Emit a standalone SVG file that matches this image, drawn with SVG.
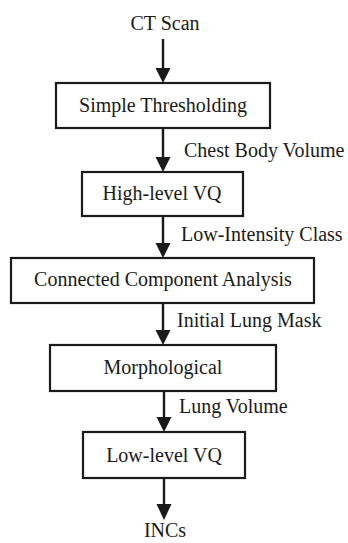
<svg xmlns="http://www.w3.org/2000/svg" width="348" height="543" viewBox="0 0 348 543">
<defs>
<style>
text{font-family:'Liberation Serif','Times New Roman',serif;font-size:20px;fill:#1a1a1a}
.c{text-anchor:middle}
.box{fill:#fff;stroke:#1a1a1a;stroke-width:2.2}
.ln{stroke:#1a1a1a;stroke-width:2.4;fill:none}
.hd{fill:#1a1a1a}
</style>
</defs>
<rect width="348" height="543" fill="#fff"/>
<g id="connectors">
<line class="ln" x1="163" y1="39" x2="163" y2="70"/><polygon class="hd" points="155.5,68 170.5,68 163,83"/>
<line class="ln" x1="163" y1="128" x2="163" y2="159"/><polygon class="hd" points="155.5,157 170.5,157 163,172"/>
<line class="ln" x1="163" y1="216" x2="163" y2="245"/><polygon class="hd" points="155.5,243 170.5,243 163,258"/>
<line class="ln" x1="163" y1="303" x2="163" y2="332"/><polygon class="hd" points="155.5,330 170.5,330 163,345"/>
<line class="ln" x1="164" y1="391" x2="164" y2="419"/><polygon class="hd" points="156.5,417 171.5,417 164,432"/>
<line class="ln" x1="164" y1="478" x2="164" y2="506"/><polygon class="hd" points="156.5,504 171.5,504 164,520"/>
<text x="184" y="157">Chest Body Volume</text>
<text x="181" y="241">Low-Intensity Class</text>
<text x="177" y="327">Initial Lung Mask</text>
<text x="179" y="413">Lung Volume</text>
</g>
<g id="ct-scan"><text class="c" x="165" y="30">CT Scan</text></g>
<g id="simple-thresholding"><rect class="box" x="56" y="83" width="214" height="45"/><text class="c" x="163" y="112">Simple Thresholding</text></g>
<g id="high-level-vq"><rect class="box" x="82" y="172" width="161" height="44"/><text class="c" x="162" y="200">High-level VQ</text></g>
<g id="connected-component-analysis"><rect class="box" x="11" y="258" width="303" height="45"/><text class="c" x="163" y="286">Connected Component Analysis</text></g>
<g id="morphological"><rect class="box" x="50" y="345" width="226" height="46"/><text class="c" x="163" y="374">Morphological</text></g>
<g id="low-level-vq"><rect class="box" x="83" y="432" width="162" height="46"/><text class="c" x="164" y="462">Low-level VQ</text></g>
<g id="incs"><text class="c" x="165" y="537">INCs</text></g>
</svg>
